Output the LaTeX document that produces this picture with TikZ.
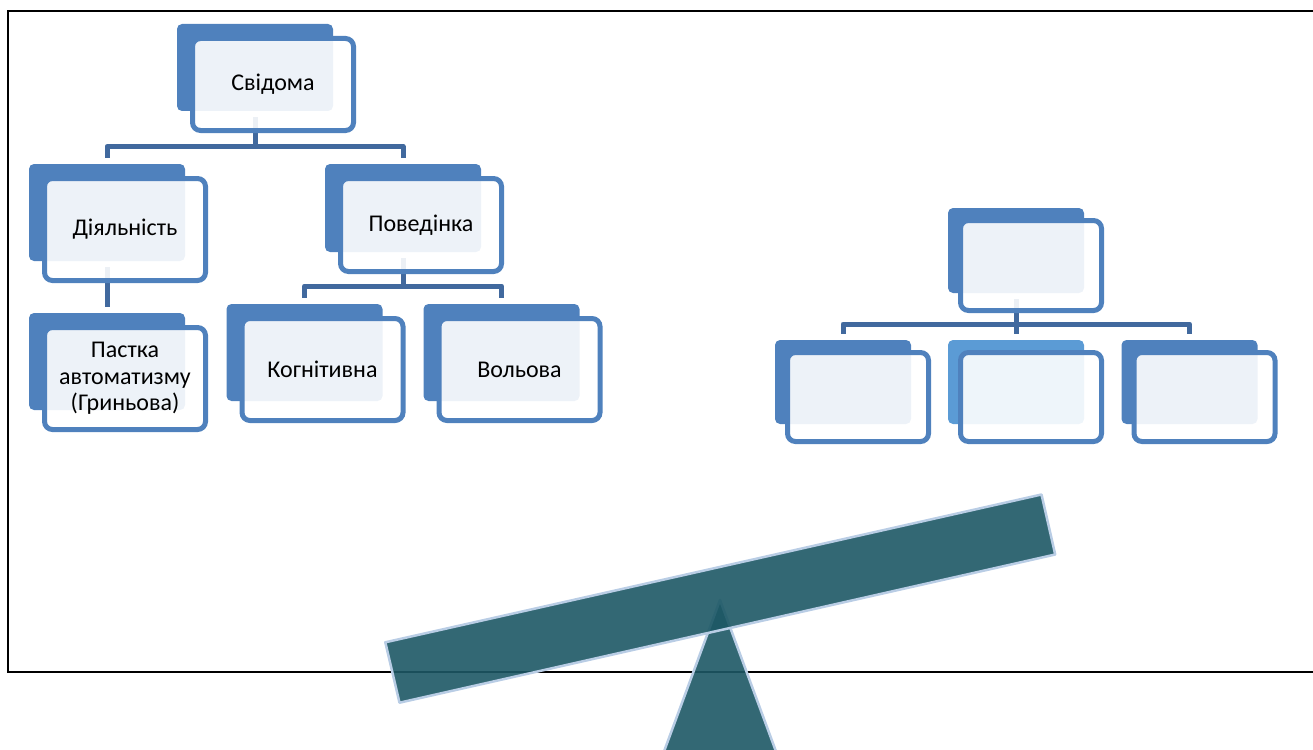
\documentclass[tikz,border=0pt]{standalone}
\usepackage{fontspec}
\setmainfont{Carlito}
\usetikzlibrary{backgrounds}

\definecolor{cardblue}{RGB}{79,129,189}
\definecolor{cardlight}{RGB}{91,155,213}
\definecolor{linkblue}{RGB}{65,105,158}
\definecolor{beam}{RGB}{29,88,101}
\definecolor{rim}{RGB}{185,205,229}

\tikzset{
  backcard/.style={fill=cardblue, rounded corners=5pt, inner sep=0pt},
  frontcard/.style={draw=cardblue, line width=5pt, fill=white, fill opacity=0.9,
    text opacity=1, rounded corners=8pt, inner sep=0pt, align=center},
  link/.style={draw=linkblue, line width=5pt, line join=round},
  beamshape/.style={fill=beam, fill opacity=0.9, draw=rim, line width=2.5pt, line join=round}
}

\begin{document}
\begin{tikzpicture}[x=1pt,y=-1pt,font={\fontsize{24}{26.5}\selectfont}]
\useasboundingbox (0,0) rectangle (1313,749);
\clip (0,0) rectangle (1313,749);

% left tree
\node[backcard, minimum width=156pt, minimum height=87pt] (svB) at (255,67.5) {};
\node[backcard, minimum width=156pt, minimum height=97pt] (dB) at (107,212.5) {};
\node[backcard, minimum width=156pt, minimum height=88pt] (pB) at (403,208) {};
\node[backcard, minimum width=156pt, minimum height=97pt] (paB) at (107,361.5) {};
\node[backcard, minimum width=156pt, minimum height=97pt] (kB) at (304.5,352.5) {};
\node[backcard, minimum width=156pt, minimum height=97pt] (vB) at (501.5,352.5) {};

\node[frontcard, minimum width=161pt, minimum height=92pt] (sv) at ([shift={(18,17)}]svB) {Свідома};
\node[frontcard, minimum width=161pt, minimum height=102pt] (d) at ([shift={(18,17)}]dB) {Діяльність};
\node[frontcard, minimum width=161pt, minimum height=93pt] (p) at ([shift={(18,17)}]pB) {Поведінка};
\node[frontcard, minimum width=161pt, minimum height=102pt] (pa) at ([shift={(18,17)}]paB) {Пастка\\автоматизму\\(Гриньова)};
\node[frontcard, minimum width=161pt, minimum height=102pt] (k) at ([shift={(18,17)}]kB) {Когнітивна};
\node[frontcard, minimum width=161pt, minimum height=102pt] (v) at ([shift={(18,17)}]vB) {Вольова};

% right tree, empty
\node[backcard, minimum width=136pt, minimum height=85pt] (tB) at (1016,250.5) {};
\node[backcard, minimum width=136pt, minimum height=84pt] (lB) at (843,382) {};
\node[backcard, fill=cardlight, minimum width=136pt, minimum height=84pt] (mB) at (1016,382) {};
\node[backcard, minimum width=136pt, minimum height=84pt] (rB) at (1189.5,382) {};

\node[frontcard, minimum width=141pt, minimum height=90pt] (t) at ([shift={(15,15)}]tB) {};
\node[frontcard, minimum width=141pt, minimum height=89pt] (l) at ([shift={(15,15)}]lB) {};
\node[frontcard, minimum width=141pt, minimum height=89pt] (m) at ([shift={(15,15)}]mB) {};
\node[frontcard, minimum width=141pt, minimum height=89pt] (r) at ([shift={(15,15)}]rB) {};

\begin{scope}[on background layer]
\coordinate (svbar) at (255,146.5);
\draw[link] ([yshift=-6pt]svB.south) -- (svbar);
\draw[link] ([yshift=6pt]dB.north) |- (svbar) -| ([yshift=6pt]pB.north);
\draw[link] ([yshift=-6pt]dB.south) -- ([yshift=6pt]paB.north);
\coordinate (pbar) at (403,286);
\draw[link] ([yshift=-6pt]pB.south) -- (pbar);
\draw[link] ([yshift=6pt]kB.north) |- (pbar) -| ([yshift=6pt]vB.north);
\coordinate (tbar) at (1016,324);
\draw[link] ([yshift=-6pt]tB.south) -- (tbar);
\draw[link] ([yshift=6pt]lB.north) |- (tbar) -| ([yshift=6pt]rB.north);
\draw[link] (tbar) -- ([yshift=6pt]mB.north);
\end{scope}

% frame
\draw[line width=2.5pt] (8,11) rectangle (1330,672);

% seesaw
\coordinate (tip) at (720,600);
\coordinate (f1) at (659,765);
\coordinate (f2) at (781,765);
\coordinate (b1) at (385.3,642.3);
\coordinate (b2) at (1041.5,494.5);
\coordinate (b3) at (1055.2,554.5);
\coordinate (b4) at (399.5,702.7);
\filldraw[beamshape] (tip) -- (f2) -- (f1) -- cycle;
\filldraw[beamshape] (b1) -- (b2) -- (b3) -- (b4) -- cycle;

\end{tikzpicture}
\end{document}
